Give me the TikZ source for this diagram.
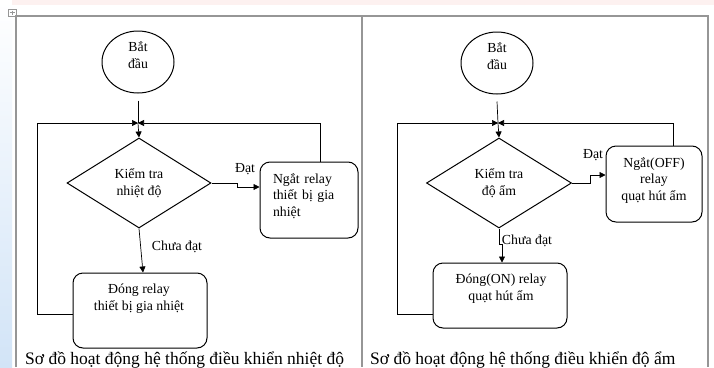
\documentclass[tikz,border=0pt]{standalone}
\usepackage{fontspec}
\setmainfont{Liberation Serif}
\usetikzlibrary{shapes.geometric,arrows.meta}
\definecolor{stripblue}{RGB}{210,228,247}
\definecolor{toppink}{RGB}{253,241,240}
\definecolor{framegray}{RGB}{150,150,150}
\begin{document}
\begin{tikzpicture}[x=1pt,y=-1pt,
  every node/.style={font=\fontsize{13.8}{16.5}\selectfont},
  startnode/.style={ellipse,draw,line width=1pt,minimum width=72pt,minimum height=62pt,inner sep=0pt},
  decide/.style={diamond,draw,line width=1pt,aspect=1.6,inner sep=0pt,align=center},
  procbox/.style={draw,line width=1pt,rounded corners=10pt,inner sep=0pt},
  txt/.style={inner sep=0pt,align=center},
  lbl/.style={inner sep=0pt},
  arr/.style={-{Triangle[length=6pt,width=6pt]},line width=0.7pt},
  conn/.style={line width=0.7pt},
  frame/.style={draw=framegray,line width=1.4pt},
  caption/.style={inner sep=0pt,anchor=base west,font=\fontsize{17.5}{20}\selectfont},
]
\useasboundingbox (0,0) rectangle (714,367);
\fill[white] (0,0) rectangle (714,367);
\shade[top color=white,bottom color=stripblue] (0,0) rectangle (12,367);
\fill[toppink] (12,0) rectangle (714,5);
\draw[framegray,line width=0.6pt] (8,9) rectangle (16,16);
\draw[framegray,line width=0.5pt] (9.5,12.5) -- (14.5,12.5) (12,10.5) -- (12,14.5);

% table frame
\draw[frame] (16,367) -- (16,16) -- (708,16) -- (708,367);
\draw[frame] (362,16) -- (362,367);

% ---------------- left panel ----------------
\node[startnode] (ls) at (138,62) {};
\node[txt] (lst) at (138,55) {Bắt\\đầu};
\coordinate (lj) at (138,123);
\node[decide,minimum width=144pt,minimum height=90pt] (ld) at (139,183) {Kiểm tra\\nhiệt độ};
\node[procbox,minimum width=98pt,minimum height=76pt] (lr) at (309,200) {};
\node[inner sep=0pt,align=left,text width=76pt] (lrt) at ([xshift=2pt,yshift=4pt]lr.center) {Ngắt relay\\thiết bị gia\\nhiệt};
\node[procbox,minimum width=134pt,minimum height=75pt] (lb) at (140,310.5) {};
\node[txt] (lbt) at ([xshift=-1pt,yshift=12pt]lb.center) {Đóng relay\\thiết bị gia nhiệt};

\draw[conn] ([yshift=-7pt]ls.south) -- (lj);
\draw[arr] (lj) -- (ld.north);
\draw[arr] (ld.east) -- ++(26,0) |- ([yshift=13pt]lr.west);
\node[lbl] (ldat) at (245,169) {Đạt};
\draw[arr] ([xshift=11pt]lr.north) |- (lj);
\draw[arr] (ld.south) -- ([xshift=3pt]lb.north);
\node[lbl] (lchua) at (177,247) {Chưa đạt};
\draw[arr] ([yshift=-3.5pt]lb.west) -- ++(-35,0) |- (lj);
\node[caption] (lcap) at (25,364) {Sơ đồ hoạt động hệ thống điều khiển nhiệt độ};

% ---------------- right panel ----------------
\node[startnode] (rs) at (497,63) {};
\node[txt] (rst) at (497,56) {Bắt\\đầu};
\coordinate (rj) at (498,123);
\node[decide,minimum width=145pt,minimum height=90pt] (rd) at (499,183) {Kiểm tra\\độ ẩm};
\node[procbox,minimum width=96pt,minimum height=76pt] (rr) at (654,184) {};
\node[txt] (rrt) at ([yshift=4pt]rr.center) {Ngắt(OFF)\\relay\\quạt hút ẩm};
\node[procbox,minimum width=134pt,minimum height=65pt] (rb) at (500,295.5) {};
\node[txt] (rbt) at ([xshift=1pt,yshift=7pt]rb.center) {Đóng(ON) relay\\quạt hút ẩm};

\draw[conn] ([yshift=-7pt]rs.south) -- (rj);
\draw[arr] (rj) -- (rd.north);
\draw[arr] (rd.east) -- ++(18,0) |- ([yshift=9pt]rr.west);
\node[lbl] (rdat) at (593,155) {Đạt};
\draw[arr] ([xshift=19pt]rr.north) |- (rj);
\draw[arr] (rd.south) -- ++(0,16) -| ([xshift=2pt]rb.north);
\node[lbl] (rchua) at (527,241) {Chưa đạt};
\draw[arr] ([yshift=-18.5pt]rb.west) -- ++(-35,0) |- (rj);
\node[caption] (rcap) at (370,364) {Sơ đồ hoạt động hệ thống điều khiển độ ẩm};
\end{tikzpicture}
\end{document}
